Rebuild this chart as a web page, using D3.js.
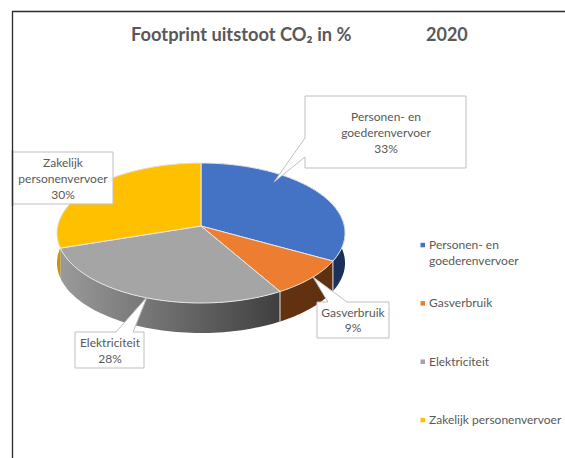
<!DOCTYPE html>
<html><head><meta charset="utf-8">
<script src="https://cdn.jsdelivr.net/npm/d3@7"></script>
<style>html,body{margin:0;background:#fff}svg{display:block}text{font-family:Lato,"Open Sans",sans-serif}</style>
</head><body><svg id="c" width="565" height="458"></svg>
<script>
const categories = ["Personen- en goederenvervoer","Gasverbruik","Elektriciteit","Zakelijk personenvervoer"];
const values = [33, 8.6, 28.4, 30];
const topColors = ["#4472c4","#ed7d31","#a5a5a5","#ffc000"];
const legendLines = [["Personen- en","goederenvervoer"],["Gasverbruik"],["Elektriciteit"],["Zakelijk personenvervoer"]];
const labelLines = [["Personen- en","goederenvervoer"],["Gasverbruik"],["Elektriciteit"],["Zakelijk","personenvervoer"]];

const svg = d3.select("#c");
const cx=201, cy=226, R=143.3, A=69.3, B=0.1, depth=30;
const proj = a => { const u=Math.sin(a), v=-Math.cos(a), d=1-B*v; return [cx+R*u/d, cy+A*v/d]; };
const arcs = d3.pie().sort(null)(values);
const samples = (a0,a1) => d3.range(0,61).map(i=>a0+(a1-a0)*i/60);
const line = d3.line();
const defs = svg.append("defs");
const wall = [
  {id:"w0",stops:["#24427a","#1a2f58"]},
  {id:"w1",stops:["#633211","#5f3010"]},
  {id:"w2",stops:["#9a9a9a","#3f3f3f"]},
  {id:"w3",stops:["#c99400","#c99400"]}
];
wall.forEach(w=>{
  const g=defs.append("linearGradient").attr("id",w.id);
  w.stops.forEach((c,i)=>g.append("stop").attr("offset",i).attr("stop-color",c));
});
svg.append("path").attr("d","M12.5,458V11.5H565").attr("fill","none").attr("stroke","#2b2b2b").attr("stroke-width",1.3);

svg.selectAll("path.wall").data(arcs).join("path").attr("class","wall")
  .attr("fill",(d,i)=>`url(#${wall[i].id})`)
  .attr("d",d=>{
    const top=samples(d.startAngle,d.endAngle).map(proj);
    const bot=top.map(p=>[p[0],p[1]+depth]).reverse();
    return line(top.concat(bot))+"Z";
  });
svg.selectAll("path.top").data(arcs).join("path").attr("class","top")
  .attr("fill",(d,i)=>topColors[i]).attr("stroke","#e6e6e6").attr("stroke-width",1).attr("stroke-linejoin","round")
  .attr("d",d=>line([[cx,cy]].concat(samples(d.startAngle,d.endAngle).map(proj)))+"Z");
const seams=[arcs[0].endAngle,arcs[1].endAngle];
svg.selectAll("path.seam").data(seams).join("path").attr("class","seam")
  .attr("stroke","#e6e6e6").attr("fill","none")
  .attr("d",a=>{const p=proj(a);return line([p,[p[0],p[1]+depth]]);});

svg.append("text").attr("x",131).attr("y",41).attr("font-size",18.3).attr("font-weight",700).attr("fill","#595959")
  .text("Footprint uitstoot CO₂ in %");
svg.append("text").attr("x",426).attr("y",41).attr("font-size",18).attr("font-weight",700).attr("fill","#595959").text("2020");

const callouts = [
  {pts:"305,96 466,96 466,168 305,168 305,157 274,182 305,138", cx:386, y:121, step:16, i:0},
  {pts:"317,302 328,302 313,277 347,302 389,302 389,338 317,338", cx:353, y:317, step:15, i:1},
  {pts:"75,332 116,332 147,297 133,332 144,332 144,368 75,368", cx:110, y:347, step:16, i:2},
  {pts:"13,152 113,152 113,204 13,204", cx:63, y:167, step:16, i:3}
];
callouts.forEach(c=>{
  svg.append("polygon").attr("points",c.pts).attr("fill","#fff").attr("stroke","#bfbfbf");
  const ls=labelLines[c.i].concat([Math.round(values[c.i])+"%"]);
  ls.forEach((t,k)=>svg.append("text").attr("x",c.cx).attr("y",c.y+k*c.step).attr("text-anchor","middle")
    .attr("font-size",12).attr("fill","#595959").text(t));
});
svg.append("path").attr("d","M12.5,150V206").attr("stroke","#2b2b2b").attr("stroke-width",1.3);

const legendY=d3.scalePoint().domain(categories).range([245,420]);
categories.forEach((c,i)=>{
  const y=legendY(c);
  svg.append("rect").attr("x",420.5).attr("y",y-2.2).attr("width",4.5).attr("height",4.5).attr("fill",topColors[i]);
  legendLines[i].forEach((t,k)=>svg.append("text").attr("x",429).attr("y",y+4+k*16).attr("font-size",12).attr("fill","#595959").text(t));
});
</script></body></html>
